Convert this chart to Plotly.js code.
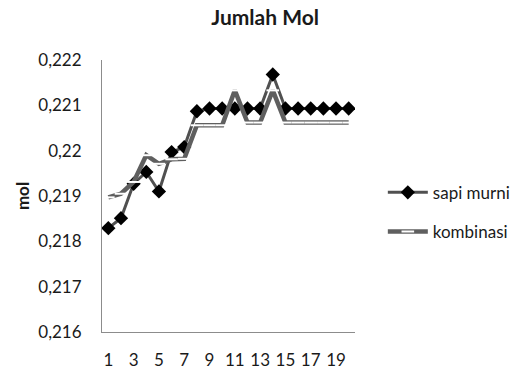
<!DOCTYPE html>
<html>
<head>
<meta charset="utf-8">
<script src="https://cdn.plot.ly/plotly-3.0.1.min.js"></script>
<style>html,body{margin:0;padding:0;background:#fff;}#chart{width:527px;height:374px;}</style>
</head>
<body>
<div id="chart"></div>
<script>
const categories = [1,2,3,4,5,6,7,8,9,10,11,12,13,14,15,16,17,18,19,20];
const sapiMurni = [0.21829,0.21851,0.21927,0.21953,0.21910,0.21997,0.22008,0.22087,0.22093,0.22093,0.22093,0.22093,0.22093,0.22168,0.22093,0.22093,0.22093,0.22093,0.22093,0.22093];
const kombinasi = [0.21897,0.21905,0.21931,0.21990,0.21971,0.21981,0.21982,0.22056,0.22056,0.22056,0.22133,0.22062,0.22062,0.22133,0.22062,0.22062,0.22062,0.22062,0.22062,0.22062];
const xTickVals = [1,3,5,7,9,11,13,15,17,19];
const yTickVals = [0.216,0.217,0.218,0.219,0.22,0.221,0.222];
const yTickText = ['0,216','0,217','0,218','0,219','0,22','0,221','0,222'];

const FONT = 'Lato, "Open Sans", sans-serif';
const TXT = '#1a1a1a';

const traces = [
  {
    x: categories, y: sapiMurni, name: 'sapi murni', type: 'scatter', mode: 'lines+markers',
    legendgroup: 'a',
    line: {color: '#505050', width: 3},
    marker: {symbol: 'diamond', size: 11, color: '#000000', line: {width: 0}}
  },
  {
    x: categories, y: kombinasi, name: 'kombinasi', type: 'scatter', mode: 'lines+markers',
    legendgroup: 'b',
    line: {color: '#5f5f5f', width: 4.5},
    marker: {symbol: 'line-ew', size: 9, color: '#ffffff', line: {color: '#ffffff', width: 2}}
  }
];

const layout = {
  width: 527, height: 374,
  margin: {l: 102, r: 167, t: 60, b: 42},
  paper_bgcolor: '#ffffff', plot_bgcolor: '#ffffff',
  font: {family: FONT, size: 17, color: TXT},
  title: {text: '<b>Jumlah Mol</b>', x: 0.503, xanchor: 'center', y: 0.952, yanchor: 'middle', font: {family: FONT, size: 21, color: TXT}},
  showlegend: true,
  legend: {x: 1.11, xanchor: 'left', y: 0.44, yanchor: 'middle', tracegroupgap: 14, itemwidth: 40, font: {family: FONT, size: 17, color: TXT}, bgcolor: 'rgba(0,0,0,0)'},
  xaxis: {
    range: [0.5, 20.5], tickmode: 'array', tickvals: xTickVals, ticktext: xTickVals.map(String),
    showgrid: false, zeroline: false, showline: true, linecolor: '#8c8c8c', linewidth: 1,
    ticks: '', ticklabelstandoff: 13, tickfont: {family: FONT, size: 17, color: TXT}, fixedrange: true
  },
  yaxis: {
    range: [0.216, 0.222], tickmode: 'array', tickvals: yTickVals, ticktext: yTickText,
    showgrid: false, zeroline: false, showline: true, linecolor: '#8c8c8c', linewidth: 1,
    ticks: '', ticklabelstandoff: 16, tickfont: {family: FONT, size: 17, color: TXT},
    title: {text: '<b>mol</b>', standoff: 4, font: {family: FONT, size: 17, color: TXT}}, fixedrange: true
  }
};

Plotly.newPlot('chart', traces, layout, {displayModeBar: false, staticPlot: true});
</script>
</body>
</html>
